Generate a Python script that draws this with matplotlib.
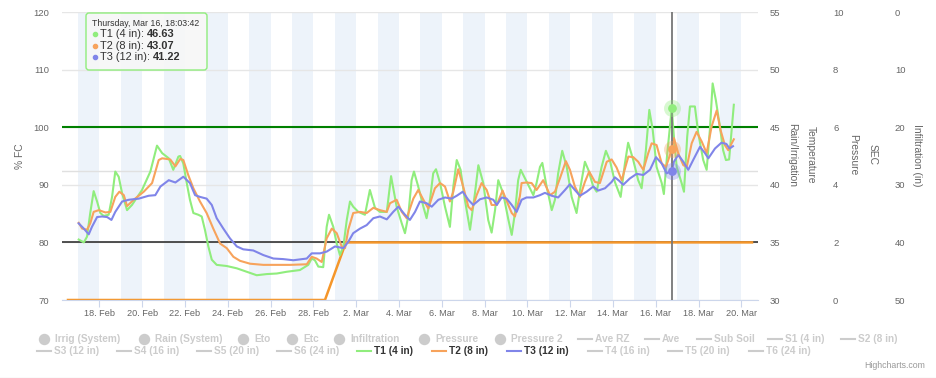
import datetime as dt
import matplotlib
matplotlib.use("Agg")
import matplotlib.pyplot as plt
from matplotlib.patches import FancyBboxPatch
from matplotlib.lines import Line2D
from matplotlib.transforms import IdentityTransform
from matplotlib.ticker import FuncFormatter
import matplotlib.dates as mdates

plt.rcParams['font.family'] = ['Liberation Sans', 'DejaVu Sans']

start = dt.datetime(2023, 2, 17)

# T1 (4 in) temperature, day offsets from 17 Feb 00:00
t1_days = [0.03, 0.27, 0.42, 0.57, 0.73, 0.89, 1.04, 1.20, 1.43, 1.59,
           1.74, 1.90, 2.06, 2.29, 2.52, 2.99, 3.38, 3.69, 3.93, 4.24,
           4.45, 4.69, 4.77, 4.92, 5.08, 5.23, 5.39, 5.62, 5.78, 5.93,
           6.09, 6.25, 6.48, 6.95, 7.42, 7.88, 8.35, 8.82, 9.29, 9.75,
           10.37, 10.76, 10.92, 11.07, 11.23, 11.46, 11.62, 11.73, 11.93, 12.09,
           12.24, 12.40, 12.56, 12.71, 12.86, 13.10, 13.41, 13.64, 13.88, 14.11,
           14.43, 14.63, 14.89, 15.13, 15.28, 15.43, 15.59, 15.70, 15.90, 16.14,
           16.29, 16.45, 16.60, 16.73, 16.92, 17.15, 17.38, 17.54, 17.70, 17.88,
           18.08, 18.32, 18.55, 18.71, 18.94, 19.17, 19.33, 19.49, 19.64, 19.87,
           20.11, 20.27, 20.42, 20.57, 20.69, 20.89, 21.12, 21.28, 21.43, 21.59,
           21.70, 21.90, 22.14, 22.29, 22.44, 22.63, 22.84, 23.07, 23.30, 23.46,
           23.69, 23.85, 24.08, 24.24, 24.47, 24.67, 24.86, 25.09, 25.36, 25.56,
           25.71, 25.95, 26.18, 26.34, 26.54, 26.70, 26.86, 27.04, 27.28, 27.38,
           27.54, 27.75, 27.85, 27.98, 28.21, 28.32, 28.47, 28.60, 28.83, 28.99,
           29.22, 29.38, 29.53, 29.66, 29.81, 30.00, 30.15, 30.28, 30.43, 30.55,
           30.65]
t1_vals = [35.25, 35.0, 35.5, 37.55, 39.45, 38.55, 37.55, 37.3, 37.4, 38.95,
           41.15, 40.7, 39.25, 37.8, 38.25, 39.55, 41.15, 43.4, 42.75, 42.3,
           41.3, 42.45, 42.5, 41.85, 40.15, 38.7, 37.55, 37.4, 37.25, 36.1,
           34.65, 33.5, 33.05, 32.95, 32.75, 32.45, 32.15, 32.25, 32.3, 32.45,
           32.6, 33.05, 33.6, 33.45, 32.9, 32.85, 36.35, 37.4, 36.35, 34.9,
           33.9, 34.65, 36.95, 38.55, 38.1, 37.65, 37.4, 39.55, 38.0, 37.65,
           37.65, 40.75, 38.1, 36.65, 35.8, 37.25, 40.4, 41.15, 39.85, 38.1,
           37.1, 38.7, 41.0, 41.35, 40.15, 38.1, 36.35, 39.85, 42.15, 41.3,
           38.7, 36.1, 39.25, 41.7, 40.15, 36.95, 35.85, 37.8, 40.4, 39.25,
           37.0, 35.65, 37.55, 40.4, 41.3, 40.55, 39.7, 39.1, 40.15, 41.55,
           41.9, 39.85, 37.8, 38.7, 41.0, 42.95, 41.55, 38.95, 37.55, 39.55,
           42.0, 41.3, 39.85, 39.4, 41.55, 42.95, 42.1, 40.25, 38.95, 41.85,
           43.65, 42.15, 40.4, 39.7, 43.0, 46.5, 44.75, 41.55, 40.15, 39.2,
           42.75, 46.63, 44.15, 41.55, 40.15, 39.4, 44.15, 46.8, 46.8, 44.45,
           42.15, 41.3, 44.75, 48.8, 47.35, 45.05, 43.0, 42.15, 42.2, 44.75,
           46.95]

# T2 (8 in)
t2_days = [0.03, 0.19, 0.42, 0.57, 0.73, 0.97, 1.28, 1.51, 1.74, 1.93,
           2.14, 2.29, 2.60, 3.07, 3.46, 3.77, 3.93, 4.31, 4.55, 4.78,
           4.92, 5.15, 5.39, 5.70, 6.01, 6.32, 6.64, 6.95, 7.26, 7.57,
           8.04, 8.66, 9.29, 9.91, 10.69, 10.92, 11.15, 11.39, 11.62, 11.86,
           12.09, 12.32, 12.48, 12.63, 12.86, 13.18, 13.49, 13.80, 14.11, 14.43,
           14.58, 14.89, 15.13, 15.36, 15.67, 15.90, 16.14, 16.37, 16.68, 16.92,
           17.15, 17.38, 17.54, 17.77, 18.00, 18.24, 18.40, 18.63, 18.86, 19.10,
           19.33, 19.57, 19.84, 20.11, 20.27, 20.42, 20.57, 20.65, 20.73, 20.96,
           21.20, 21.43, 21.74, 22.06, 22.29, 22.52, 22.80, 22.99, 23.22, 23.46,
           23.69, 23.89, 24.16, 24.39, 24.71, 24.94, 25.17, 25.41, 25.72, 25.95,
           26.18, 26.42, 26.65, 26.81, 27.04, 27.28, 27.48, 27.75, 27.85, 28.05,
           28.29, 28.45, 28.68, 28.91, 29.15, 29.38, 29.61, 29.85, 30.03, 30.23,
           30.39, 30.55, 30.65]
t2_vals = [36.7, 36.2, 36.1, 36.65, 37.65, 37.8, 37.6, 37.65, 38.95, 39.4,
           39.1, 38.15, 38.7, 39.4, 40.15, 42.15, 42.3, 42.2, 41.6, 42.25,
           42.15, 40.85, 39.7, 38.55, 37.55, 36.2, 34.9, 34.5, 33.75, 33.4,
           33.15, 33.05, 33.05, 33.05, 33.1, 33.75, 33.6, 33.3, 35.35, 36.2,
           35.8, 34.65, 34.5, 36.1, 37.55, 37.65, 37.55, 38.0, 37.8, 37.65,
           38.4, 38.7, 37.65, 37.1, 38.8, 39.55, 38.7, 37.95, 39.7, 40.15,
           39.85, 38.55, 39.4, 41.35, 39.85, 38.1, 37.8, 39.1, 40.15, 39.55,
           38.25, 38.25, 39.5, 38.25, 37.55, 37.25, 38.4, 39.0, 40.15, 40.2,
           40.15, 39.55, 40.4, 39.1, 39.4, 40.55, 42.05, 41.3, 39.85, 38.95,
           40.25, 41.15, 40.25, 40.15, 42.0, 42.2, 41.5, 40.4, 42.45, 42.4,
           42.0, 41.3, 42.75, 43.6, 43.45, 41.85, 41.55, 43.07, 44.05, 42.75,
           41.7, 41.55, 43.6, 44.6, 43.75, 42.75, 45.05, 46.45, 44.75, 43.45,
           43.0, 43.6, 43.95]

# T3 (12 in)
t3_days = [0.03, 0.27, 0.50, 0.65, 0.89, 1.12, 1.36, 1.56, 1.74, 2.06,
           2.37, 2.84, 3.30, 3.61, 3.85, 4.24, 4.55, 4.92, 5.23, 5.47,
           5.70, 6.01, 6.25, 6.48, 6.79, 7.10, 7.42, 7.72, 8.19, 8.66,
           9.13, 9.59, 10.06, 10.69, 10.92, 11.31, 11.62, 12.01, 12.40, 12.63,
           12.86, 13.18, 13.49, 13.80, 14.11, 14.43, 14.73, 14.97, 15.28, 15.51,
           15.75, 15.98, 16.29, 16.53, 16.84, 17.15, 17.46, 17.70, 17.98, 18.24,
           18.47, 18.79, 19.10, 19.41, 19.57, 19.80, 20.03, 20.27, 20.50, 20.73,
           20.96, 21.28, 21.59, 21.82, 22.14, 22.44, 22.76, 22.99, 23.22, 23.46,
           23.77, 24.08, 24.31, 24.63, 24.94, 25.09, 25.29, 25.48, 25.79, 26.11,
           26.42, 26.73, 27.01, 27.28, 27.51, 27.75, 27.85, 28.05, 28.29, 28.52,
           28.75, 29.07, 29.30, 29.46, 29.77, 30.07, 30.30, 30.45, 30.61]
t3_vals = [36.65, 36.2, 35.7, 36.35, 37.2, 37.25, 37.2, 36.95, 37.65, 38.55,
           38.7, 38.8, 39.05, 39.1, 39.85, 40.4, 40.2, 40.7, 40.15, 39.1,
           38.95, 38.8, 38.25, 37.1, 36.2, 35.35, 34.65, 34.4, 34.3, 33.9,
           33.6, 33.55, 33.45, 33.6, 34.05, 34.05, 34.2, 34.65, 34.5, 35.05,
           35.8, 36.2, 36.5, 37.1, 37.25, 37.0, 37.65, 38.1, 37.4, 36.95,
           37.65, 38.55, 38.4, 38.1, 38.7, 38.9, 38.8, 39.05, 39.4, 38.7,
           38.25, 38.75, 38.9, 38.7, 38.25, 38.9, 38.8, 38.25, 37.65, 38.7,
           38.9, 38.9, 39.1, 39.3, 39.05, 38.9, 39.55, 40.05, 39.55, 39.05,
           39.4, 39.85, 39.5, 39.7, 40.25, 40.65, 40.35, 40.0, 40.55, 40.95,
           40.85, 41.3, 42.4, 41.85, 41.0, 41.22, 42.0, 42.6, 42.0, 41.3,
           42.15, 43.3, 42.75, 42.3, 43.15, 43.65, 43.55, 43.15, 43.35]

# orange step line (% FC)
step_days = [-0.47, 11.54, 12.52, 31.5]
step_fc = [70, 70, 80, 80]

full_point_fc = 100
refill_fc = 80
extra_grid_fc = 92.45

tooltip_time = dt.datetime(2023, 3, 16, 18, 3, 42)
series_names = ["T1 (4 in)", "T2 (8 in)", "T3 (12 in)"]
series_colors = ["#90ed7d", "#f7a35c", "#8085e9"]

legend_row1 = ["Irrig (System)", "Rain (System)", "Eto", "Etc", "Infiltration",
               "Pressure", "Pressure 2", "Ave RZ", "Ave", "Sub Soil",
               "S1 (4 in)", "S2 (8 in)"]
legend_row2 = ["S3 (12 in)", "S4 (16 in)", "S5 (20 in)", "S6 (24 in)",
               "T1 (4 in)", "T2 (8 in)", "T3 (12 in)", "T4 (16 in)",
               "T5 (20 in)", "T6 (24 in)"]


def to_dates(days):
    return [start + dt.timedelta(days=d) for d in days]


W, H = 936, 378


def fx(x):
    return x / W


def fy(y):
    return 1 - y / H


fig = plt.figure(figsize=(W / 100, H / 100), dpi=100)
ax = fig.add_axes([fx(62), fy(300), 696 / W, 288 / H])

grey = "#666666"
ax.set_xlim(start + dt.timedelta(days=-0.75), start + dt.timedelta(days=31.78))
ax.set_ylim(70, 120)
ax.set_yticks(range(70, 121, 10))
ax.grid(axis="y", color="#e6e6e6", lw=1)
ax.set_axisbelow("line")
for s in ["left", "right", "top"]:
    ax.spines[s].set_visible(False)
ax.spines["bottom"].set_color("#ccd6eb")
ax.tick_params(axis="y", length=0, pad=9.4, labelsize=6.8, labelcolor=grey)

ticks = [start + dt.timedelta(days=1 + 2 * k) for k in range(16)]
ax.set_xticks(ticks)
ax.xaxis.set_major_formatter(FuncFormatter(
    lambda v, p: f"{mdates.num2date(v).day}. {mdates.num2date(v):%b}"))
ax.tick_params(axis="x", length=5, color="#ccd6eb", pad=1.5,
               labelsize=6.6, labelcolor=grey)

# day bands
for k in range(0, 31, 2):
    ax.axvspan(start + dt.timedelta(days=k), start + dt.timedelta(days=k + 1),
               color="#edf3fa", lw=0, zorder=0.8)

ax.axhline(extra_grid_fc, color="#e0e0e0", lw=1, zorder=1.5)
ax.axhline(full_point_fc, color="#008000", lw=1.5, zorder=2)
ax.axhline(refill_fc, color="#333333", lw=1.2, zorder=2)
ax.plot(to_dates(step_days), step_fc, color="#f5962a", lw=1.8, zorder=2.5)

# temperature axis carries the T series
ax2 = ax.twinx()
ax2.set_ylim(30, 55)
ax2.set_yticks(range(30, 56, 5))
for s in ax2.spines.values():
    s.set_visible(False)
ax2.tick_params(axis="y", length=0, pad=8.6, labelsize=6.8, labelcolor=grey)

all_days = [t1_days, t2_days, t3_days]
all_vals = [t1_vals, t2_vals, t3_vals]
for d, v, c in zip(all_days, all_vals, series_colors):
    ax2.plot(to_dates(d), v, color=c, lw=1.5, zorder=3)

ax2.axvline(tooltip_time, color="#777777", lw=1.3, zorder=4)
tip_vals = []
for d, v, c in zip(all_days, all_vals, series_colors):
    i = min(range(len(d)), key=lambda j: abs(d[j] - 27.75))
    tip_vals.append(v[i])
    ax2.scatter([tooltip_time], [v[i]], s=150, color=c, alpha=0.35, lw=0, zorder=5)
    ax2.scatter([tooltip_time], [v[i]], s=40, color=c, lw=0, zorder=6)

ax3 = ax.twinx()
ax3.set_ylim(0, 10)
ax3.set_yticks(range(0, 11, 2))
for s in ax3.spines.values():
    s.set_visible(False)
ax3.tick_params(axis="y", length=0, pad=54, labelsize=6.8, labelcolor=grey)

ax4 = ax.twinx()
ax4.set_ylim(50, 0)
ax4.set_yticks(range(0, 51, 10))
for s in ax4.spines.values():
    s.set_visible(False)
ax4.tick_params(axis="y", length=0, pad=98.6, labelsize=6.8, labelcolor=grey)

# axis titles
fig.text(fx(20), fy(156), "% FC", rotation=90, ha="center", va="center",
         fontsize=7.4, color=grey)
for x, t in [(792, "Rain/Irrigation"), (811, "Temperature"), (853, "Pressure"),
             (873, "SEC"), (917, "Infiltration (in)")]:
    fig.text(fx(x), fy(155), t, rotation=270, ha="center", va="center",
             fontsize=7.4, color=grey)

# tooltip
tip = FancyBboxPatch((86, H - 70), 121, 57,
                     boxstyle="round,pad=0,rounding_size=3",
                     transform=IdentityTransform(),
                     fc=(0.97, 0.97, 0.97, 0.88), ec="#90ed7d", lw=1, zorder=10)
fig.add_artist(tip)
fig.text(fx(92), fy(23.5), f"{tooltip_time:%A}, {tooltip_time:%b} {tooltip_time.day}, {tooltip_time:%H:%M:%S}",
         fontsize=6.3, color="#333333", va="center", zorder=11)
renderer = fig.canvas.get_renderer()
for k, (name, c, val) in enumerate(zip(series_names, series_colors, tip_vals)):
    yy = fy(34.3 + k * 11.4)
    fig.add_artist(Line2D([fx(95)], [yy], marker="o", ms=3, color=c, lw=0,
                          transform=fig.transFigure, zorder=11))
    lab = fig.text(fx(100), yy, f"{name}: ", fontsize=7.9, color="#333333",
                   va="center", zorder=11)
    bb = lab.get_window_extent(renderer=renderer)
    fig.text(bb.x1 / W, yy, f"{val:.2f}", fontsize=7.9, color="#333333",
             fontweight="bold", va="center", zorder=11)

# legend
hidden = "#cccccc"
row1_pos = [44, 144, 243, 292, 339, 424, 500, 578, 645, 697, 768, 841]
for i, (lab, x) in enumerate(zip(legend_row1, row1_pos)):
    yy = fy(339)
    if i < 7:
        fig.add_artist(Line2D([fx(x)], [yy], marker="o", ms=7.2, color=hidden,
                              lw=0, transform=fig.transFigure))
        tx = x + 11
    else:
        fig.add_artist(Line2D([fx(x), fx(x + 14)], [yy, yy], color=hidden, lw=1.5,
                              transform=fig.transFigure))
        tx = x + 17
    fig.text(fx(tx), yy, lab, fontsize=7.3, fontweight="bold", color=hidden,
             va="center")

row2_pos = [37, 117, 197, 277, 357, 432, 507, 588, 668, 749]
for lab, x in zip(legend_row2, row2_pos):
    yy = fy(351)
    if lab in series_names:
        c = series_colors[series_names.index(lab)]
        tc = "#333333"
    else:
        c = hidden
        tc = hidden
    fig.add_artist(Line2D([fx(x), fx(x + 14)], [yy, yy], color=c, lw=1.5,
                          transform=fig.transFigure))
    fig.text(fx(x + 17), yy, lab, fontsize=7.3, fontweight="bold", color=tc,
             va="center")

fig.text(fx(925), fy(366), "Highcharts.com", ha="right", va="center",
         fontsize=6.3, color="#999999")
fig.add_artist(Line2D([0, 1], [fy(377.5), fy(377.5)], color="#e6e6e6", lw=1,
                      transform=fig.transFigure))

fig.savefig("out.png", dpi=100)
